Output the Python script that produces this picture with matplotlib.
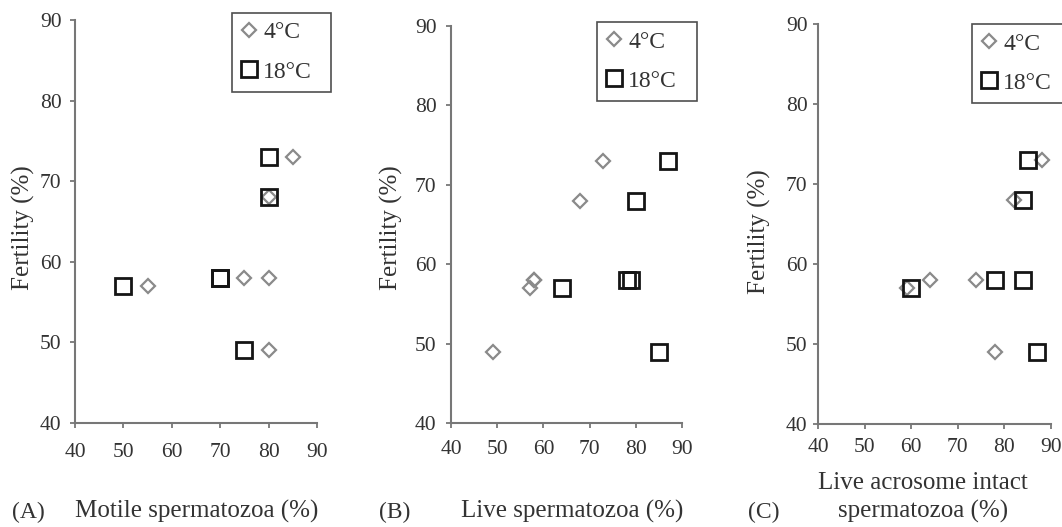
import matplotlib
matplotlib.use("Agg")
import matplotlib.pyplot as plt

plt.rcParams['font.family'] = ['Liberation Serif', 'DejaVu Serif']

fertility = [73, 68, 58, 58, 57, 49]

# Panel A: motile spermatozoa (%)
motile_4c = [85, 80, 75, 80, 55, 80]
motile_18c = [80, 80, 70, 70, 50, 75]

# Panel B: live spermatozoa (%)
live_4c = [73, 68, 58, 58, 57, 49]
live_18c = [87, 80, 78, 79, 64, 85]

# Panel C: live acrosome intact spermatozoa (%)
acro_4c = [88, 82, 64, 74, 59, 78]
acro_18c = [85, 84, 78, 84, 60, 87]

series_labels = ['4°C', '18°C']
xticks = [40, 50, 60, 70, 80, 90]
yticks = [40, 50, 60, 70, 80, 90]

W, H = 1062, 527

def fx(px):
    return px / W

def fy(py):
    return 1 - py / H

panels = [
    dict(x4=motile_4c, x18=motile_18c, xlabel='Motile spermatozoa (%)', tag='(A)',
         box=(75, 20, 317, 423), leg=(232, 13, 99, 78), ylab=(23, 228),
         xlab=(197, 518), tagpos=(28, 518), xpad=10.5, ypad=5.8),
    dict(x4=live_4c, x18=live_18c, xlabel='Live spermatozoa (%)', tag='(B)',
         box=(451, 26, 682, 423), leg=(597, 22, 100, 78), ylab=(391, 228),
         xlab=(572, 518), tagpos=(395, 518), xpad=8.6, ypad=6.5),
    dict(x4=acro_4c, x18=acro_18c, xlabel='Live acrosome intact\nspermatozoa (%)', tag='(C)',
         box=(818, 24, 1051, 424), leg=(972, 24, 100, 78), ylab=(759, 232),
         xlab=(923, 518), tagpos=(764, 518), xpad=6.5, ypad=3.6),
]

fig = plt.figure(figsize=(W / 100, H / 100), dpi=100)
text_c = '#333333'
spine_c = '#777777'

for p in panels:
    x0, y0, x1, y1 = p['box']
    ax = fig.add_axes([fx(x0), fy(y1), fx(x1) - fx(x0), fy(y0) - fy(y1)])
    ax.plot(p['x4'], fertility, linestyle='none', marker='D', markersize=7.6,
            markerfacecolor='none', markeredgecolor='#8a8a8a', markeredgewidth=1.6,
            label=series_labels[0], clip_on=False, zorder=3)
    ax.plot(p['x18'], fertility, linestyle='none', marker='s', markersize=11,
            markerfacecolor='none', markeredgecolor='#151515', markeredgewidth=2.0,
            label=series_labels[1], clip_on=False, zorder=3)
    ax.set_xlim(40, 90)
    ax.set_ylim(40, 90)
    ax.set_xticks(xticks)
    ax.set_yticks(yticks)
    for s in ['top', 'right']:
        ax.spines[s].set_visible(False)
    for s in ['left', 'bottom']:
        ax.spines[s].set_color(spine_c)
        ax.spines[s].set_linewidth(1.5)
    ax.tick_params(direction='out', length=3.8, width=1.3, color=spine_c,
                   labelsize=15.5, labelcolor=text_c)
    ax.tick_params(axis='x', pad=p['xpad'])
    ax.tick_params(axis='y', pad=p['ypad'])

    ax.set_ylabel('Fertility (%)', fontsize=18, color=text_c)
    ax.yaxis.set_label_coords(fx(p['ylab'][0]), fy(p['ylab'][1]), transform=fig.transFigure)
    ax.yaxis.label.set_va('center')

    ax.set_xlabel(p['xlabel'], fontsize=18, color=text_c, linespacing=1.35)
    ax.xaxis.set_label_coords(fx(p['xlab'][0]), fy(p['xlab'][1]), transform=fig.transFigure)
    ax.xaxis.label.set_va('baseline')

    fig.text(fx(p['tagpos'][0]), fy(p['tagpos'][1]), p['tag'], fontsize=17,
             color=text_c, ha='center', va='baseline')

    lx, ly, lw, lh = p['leg']
    leg = ax.legend(loc='upper left',
                    bbox_to_anchor=(fx(lx), fy(ly) - lh / H, lw / W, lh / H),
                    bbox_transform=fig.transFigure, mode='expand',
                    fontsize=17, frameon=True, fancybox=False, edgecolor='#222222',
                    handlelength=0.7, handletextpad=0.25, borderpad=0.38,
                    labelspacing=0.75, borderaxespad=0)
    leg.get_frame().set_linewidth(1.2)
    for t in leg.get_texts():
        t.set_color(text_c)

fig.savefig('out.png', dpi=100)
